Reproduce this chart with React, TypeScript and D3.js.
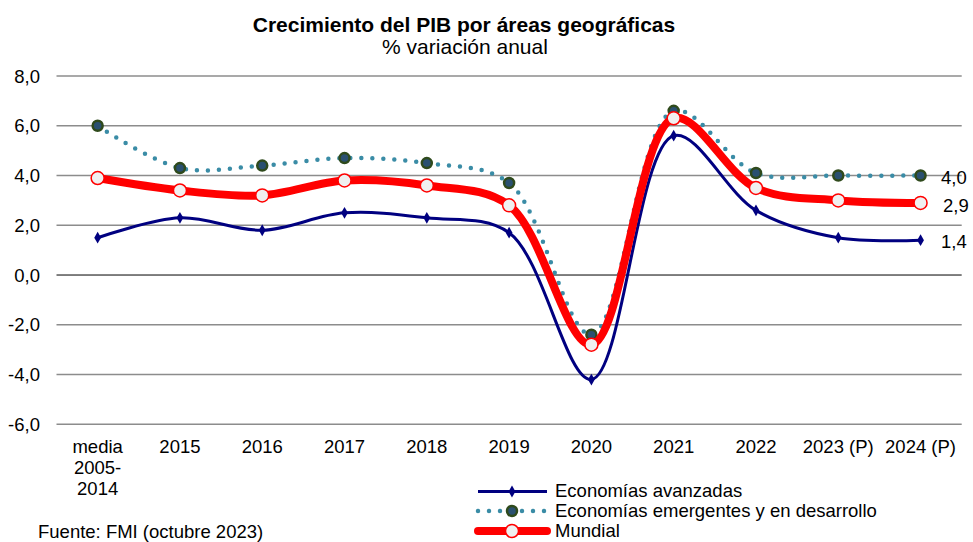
import React from 'react';
import * as d3 from 'd3';

const categories = ['media\n2005-\n2014', '2015', '2016', '2017', '2018', '2019', '2020', '2021', '2022', '2023 (P)', '2024 (P)'];
const avanzadas = [1.5, 2.3, 1.8, 2.5, 2.3, 1.7, -4.2, 5.6, 2.6, 1.5, 1.4];
const emergentes = [6.0, 4.3, 4.4, 4.7, 4.5, 3.7, -2.4, 6.6, 4.1, 4.0, 4.0];
const mundial = [3.9, 3.4, 3.2, 3.8, 3.6, 2.8, -2.8, 6.3, 3.5, 3.0, 2.9];
const yTicks = [-6, -4, -2, 0, 2, 4, 6, 8];

const W = 973;
const H = 542;
const FONT = '"Liberation Sans", Arial, sans-serif';
const FS = 18.5;

export default function App() {
  const x = d3.scaleBand<string>().domain(categories).range([56.5, 961.7]);
  const y = d3.scaleLinear().domain([-6, 8]).range([424.3, 76]);
  const cx = (i: number) => (x(categories[i]) as number) + x.bandwidth() / 2;

  const line = d3.line<number>()
    .x((_, i) => cx(i))
    .y(d => y(d))
    .curve(d3.curveCatmullRom.alpha(0.5));

  const fmt = (v: number) => v.toFixed(1).replace('.', ',');
  const last = categories.length - 1;

  return (
    <svg width={W} height={H} style={{ display: 'block', position: 'absolute', left: 0, top: 0 }} fontFamily={FONT}>
      <rect width={W} height={H} fill="#fff" />
      <text x={464} y={32} textAnchor="middle" fontSize={21} fontWeight="bold">Crecimiento del PIB por áreas geográficas</text>
      <text x={465} y={54} textAnchor="middle" fontSize={21}>% variación anual</text>

      {yTicks.map(t => (
        <g key={t}>
          <line x1={56.5} x2={961.7} y1={y(t)} y2={y(t)} stroke={t === 0 ? '#000' : '#8c8c8c'} strokeWidth={t === 0 ? 1 : 1.5} />
          <text x={40} y={y(t) + 6.5} textAnchor="end" fontSize={FS}>{fmt(t)}</text>
        </g>
      ))}

      {categories.map((c, i) => (
        <text key={c} x={cx(i)} y={453} textAnchor="middle" fontSize={FS}>
          {c.split('\n').map((s, k) => (
            <tspan key={k} x={cx(i)} dy={k === 0 ? 0 : 21}>{s}</tspan>
          ))}
        </text>
      ))}

      {/* emergentes */}
      <path d={line(emergentes) as string} fill="none" stroke="#3a8ca6" strokeWidth={4.5} strokeDasharray="0 11" strokeLinecap="round" />
      {emergentes.map((v, i) => (
        <circle key={i} cx={cx(i)} cy={y(v)} r={5} fill="#2a5070" stroke="#2f4a1c" strokeWidth={2.5} />
      ))}

      {/* avanzadas */}
      <path d={line(avanzadas) as string} fill="none" stroke="#000080" strokeWidth={3} />
      {avanzadas.map((v, i) => (
        <path key={i} d={d3.symbol(d3.symbolDiamond, 40)() as string} transform={`translate(${cx(i)},${y(v)})`} fill="#000080" />
      ))}

      {/* mundial */}
      <path d={line(mundial) as string} fill="none" stroke="#ff0000" strokeWidth={8} />
      {mundial.map((v, i) => (
        <circle key={i} cx={cx(i)} cy={y(v)} r={6.5} fill="#f0f0f0" stroke="#ff0000" strokeWidth={1.5} />
      ))}

      <text x={941} y={y(emergentes[last]) + 8} fontSize={FS}>{fmt(emergentes[last])}</text>
      <text x={943} y={y(mundial[last]) + 9} fontSize={FS}>{fmt(mundial[last])}</text>
      <text x={941} y={y(avanzadas[last]) + 8} fontSize={FS}>{fmt(avanzadas[last])}</text>

      {/* legend */}
      <g fontSize={FS}>
        <line x1={478} x2={547} y1={491.5} y2={491.5} stroke="#000080" strokeWidth={3} />
        <path d={d3.symbol(d3.symbolDiamond, 40)() as string} transform="translate(512,491.5)" fill="#000080" />
        <text x={555} y={497}>Economías avanzadas</text>

        <line x1={478} x2={547} y1={511} y2={511} stroke="#3a8ca6" strokeWidth={4.5} strokeDasharray="0 11" strokeLinecap="round" />
        <circle cx={512} cy={511} r={5} fill="#2a5070" stroke="#2f4a1c" strokeWidth={2.5} />
        <text x={555} y={517}>Economías emergentes y en desarrollo</text>

        <line x1={478} x2={547} y1={531} y2={531} stroke="#ff0000" strokeWidth={8} strokeLinecap="round" />
        <circle cx={512} cy={531} r={6.5} fill="#f0f0f0" stroke="#ff0000" strokeWidth={1.5} />
        <text x={555} y={537}>Mundial</text>
      </g>

      <text x={38} y={538} fontSize={FS}>Fuente: FMI (octubre 2023)</text>
    </svg>
  );
}
